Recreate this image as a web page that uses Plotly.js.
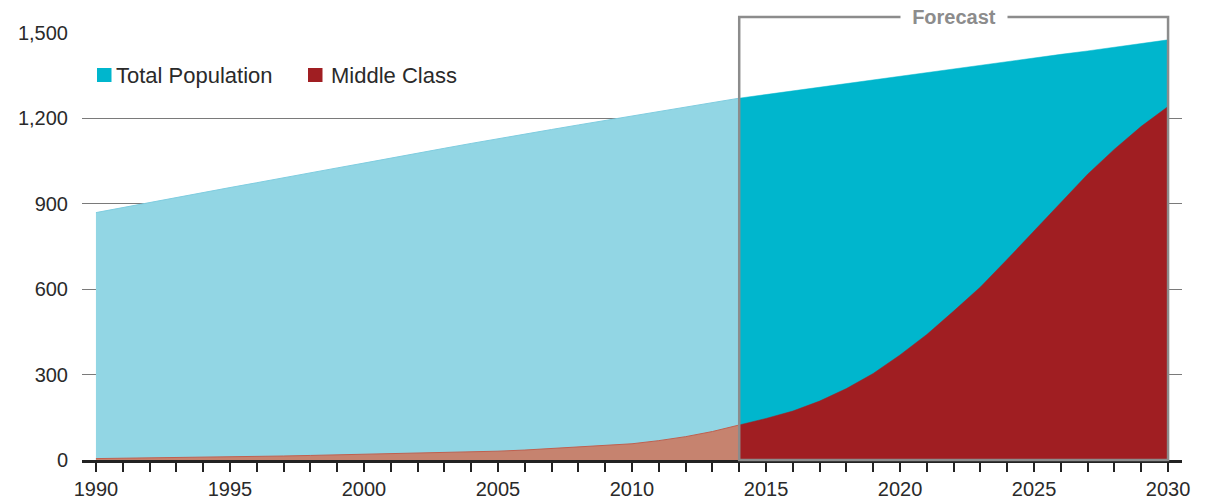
<!DOCTYPE html>
<html><head><meta charset="utf-8">
<script src="https://cdn.plot.ly/plotly-3.0.1.min.js"></script>
<style>html,body{margin:0;padding:0;background:#fff}#chart{width:1205px;height:502px}</style>
</head><body><div id="chart"></div>
<script>
// Historical (1990-2014)
const histYears = [1990,1991,1992,1993,1994,1995,1996,1997,1998,1999,2000,2001,2002,2003,2004,2005,2006,2007,2008,2009,2010,2011,2012,2013,2014];
const totalHist = [869,887,904,922,939,957,974,992,1009,1026,1043,1061,1078,1095,1112,1129,1145,1161,1177,1193,1209,1225,1240,1256,1271];
const middleHist = [5,6,7,8,9,10,12,14,16,18,20,22,24,26,28,31,35,40,45,50,57,68,82,100,123];
// Forecast (2014-2030)
const fcstYears = [2014,2015,2016,2017,2018,2019,2020,2021,2022,2023,2024,2025,2026,2027,2028,2029,2030];
const totalFcst = [1271,1284,1297,1310,1322,1335,1348,1361,1373,1386,1399,1412,1425,1437,1450,1463,1476];
const middleFcst = [123,146,172,207,251,304,369,441,523,608,705,805,904,1004,1092,1172,1242];
// Axis labels
const allYears = histYears.concat(fcstYears.slice(1));
const xLabels = allYears.map(y => (y % 5 === 0 ? String(y) : ''));
const yTicks = [0,300,600,900,1200,1500];
const yLabels = ['0','300','600','900','1,200','1,500'];
const seriesNames = ['Total Population','Middle Class'];
const forecastLabel = 'Forecast';
const forecastStart = 2014, forecastEnd = 2030;

const FONT = '"Liberation Sans", Arial, Helvetica, sans-serif';
const C = {lightBlue:'#92d6e4', cyan:'#00b6cd', salmon:'#c6836f', red:'#a01e22'};

const M = {l:82, r:23, t:33, b:42};
const W = 1205, H = 502;
const PW = W - M.l - M.r, PH = H - M.t - M.b;
const xr = [1989.48, 2030.52];
const px = v => (v - xr[0]) / (xr[1] - xr[0]);
// pixel helpers for decorations (legend)
const ppx = p => (p - M.l) / PW;
const ppy = p => (H - M.b - p) / PH;

const traces = [
  {x: histYears, y: totalHist, type:'scatter', mode:'lines', fill:'tozeroy', fillcolor:C.lightBlue, line:{color:'#7fcde0', width:1}, showlegend:false, hoverinfo:'skip'},
  {x: fcstYears, y: totalFcst, type:'scatter', mode:'lines', fill:'tozeroy', fillcolor:C.cyan, line:{color:C.cyan, width:0.5}, showlegend:false, hoverinfo:'skip'},
  {x: histYears, y: middleHist, type:'scatter', mode:'lines', fill:'tozeroy', fillcolor:C.salmon, line:{color:'#c0604f', width:1}, showlegend:false, hoverinfo:'skip'},
  {x: fcstYears, y: middleFcst, type:'scatter', mode:'lines', fill:'tozeroy', fillcolor:C.red, line:{color:C.red, width:0.5}, showlegend:false, hoverinfo:'skip'}
];

const legendItems = [
  {name:seriesNames[0], color:C.cyan, sq:97, tx:114},
  {name:seriesNames[1], color:C.red, sq:308, tx:329}
];
const legendY = 75;

const shapes = [
  {type:'rect', xref:'paper', yref:'paper', x0:px(forecastStart), x1:px(forecastEnd), y0:0, y1:ppy(17), line:{color:'#8c8c8c', width:2.5}, fillcolor:'rgba(0,0,0,0)', layer:'above'}
];
const annotations = [
  {xref:'paper', yref:'paper', x:px((forecastStart+forecastEnd)/2), y:ppy(17), text:'<b>'+forecastLabel+'</b>', showarrow:false,
   font:{family:FONT, size:20, color:'#8c8c8c'}, bgcolor:'#fff', width:106, height:20, borderpad:0, xanchor:'center', yanchor:'middle'}
];
legendItems.forEach(it => {
  shapes.push({type:'rect', xref:'paper', yref:'paper', x0:ppx(it.sq), x1:ppx(it.sq+14.5), y0:ppy(legendY+7), y1:ppy(legendY-7), fillcolor:it.color, line:{width:0}, layer:'above'});
  annotations.push({xref:'paper', yref:'paper', x:ppx(it.tx), y:ppy(legendY), text:it.name, showarrow:false, xanchor:'left', yanchor:'middle',
    font:{family:FONT, size:22, color:'#2a2a2a'}});
});

const layout = {
  width:W, height:H,
  margin:M,
  paper_bgcolor:'#fff', plot_bgcolor:'#fff',
  font:{family:FONT, size:20, color:'#2a2a2a'},
  showlegend:false,
  xaxis:{range:xr, tickmode:'array', tickvals:allYears, ticktext:xLabels, ticks:'outside', ticklen:9, tickwidth:2, tickcolor:'#222',
         showline:true, linecolor:'#222', linewidth:2.5, showgrid:false, zeroline:false, tickfont:{size:20, color:'#2a2a2a'}, fixedrange:true},
  yaxis:{range:[0,1500], tickmode:'array', tickvals:yTicks, ticktext:yLabels, ticks:'', showline:false, zeroline:false,
         showgrid:true, gridcolor:'#7a7a7a', gridwidth:1, tickfont:{size:20, color:'#2a2a2a'}, ticklabelstandoff:13, fixedrange:true},
  shapes:shapes,
  annotations:annotations
};

Plotly.newPlot('chart', traces, layout, {displayModeBar:false, staticPlot:true});
</script></body></html>
